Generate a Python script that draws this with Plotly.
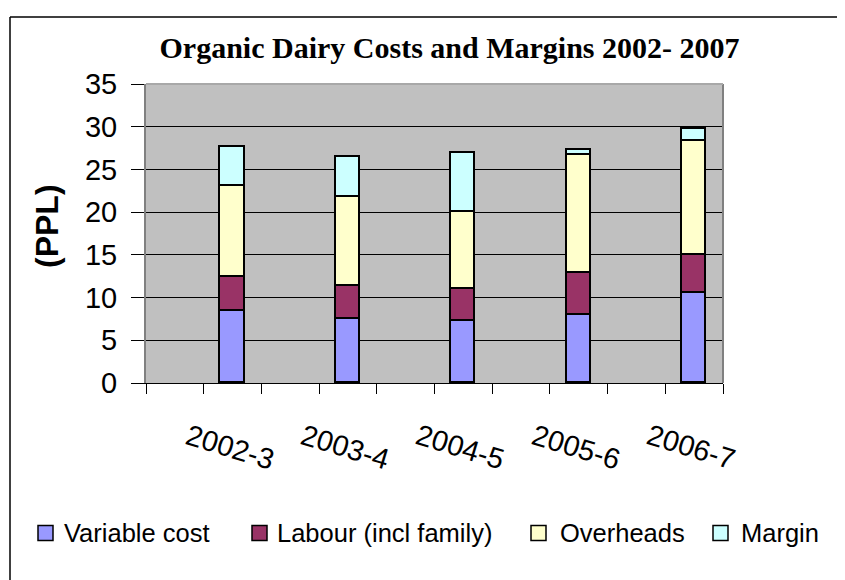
import plotly.graph_objects as go

periods = ["2002-3", "2003-4", "2004-5", "2005-6", "2006-7"]
variable_cost = [8.4, 7.5, 7.3, 7.95, 10.5]
labour = [4.0, 3.9, 3.65, 4.9, 4.5]
overheads = [10.7, 10.35, 9.1, 13.8, 13.35]
margin = [4.5, 4.75, 6.9, 0.6, 1.4]

series = [
    ("Variable cost", variable_cost, "#9999FF"),
    ("Labour (incl family)", labour, "#993366"),
    ("Overheads", overheads, "#FFFFCC"),
    ("Margin", margin, "#CCFFFF"),
]

# figure geometry (page has an 8px body margin)
W, H = 837, 572
L, R, T, B = 138, 122, 76, 197
PW, PH = W - L - R, H - T - B


def px(xp):
    return (xp - L) / PW


def py(yp):
    return (H - B - yp) / PH


# each period occupies the second of two category slots on the axis
xpos = [2 * i + 1.5 for i in range(len(periods))]

fig = go.Figure()
for name, vals, col in series:
    fig.add_trace(go.Bar(
        x=xpos, y=vals, name=name, width=0.42, showlegend=False,
        marker=dict(color=col, line=dict(color="black", width=1.6)),
    ))

annotations = []
for xp, lab in zip(xpos, periods):
    annotations.append(dict(x=xp - 0.05, y=py(439), xref="x", yref="paper", text=lab,
                            showarrow=False, textangle=17, xanchor="center", yanchor="middle",
                            font=dict(family="Liberation Sans, Arial", size=29, color="black")))

annotations.append(dict(x=px(39), y=py(218), xref="paper", yref="paper", text="<b>(PPL)</b>",
                        showarrow=False, textangle=-90, xanchor="center", yanchor="middle",
                        font=dict(family="Liberation Sans, Arial", size=32, color="black")))

shapes = []
# manual legend
leg_sq = [30, 244, 523, 705]
leg_tx = [54, 267, 550, 731]
leg_y = 525
for (name, vals, col), sx, tx in zip(series, leg_sq, leg_tx):
    shapes.append(dict(type="rect", xref="paper", yref="paper",
                       x0=px(sx), x1=px(sx + 15), y0=py(leg_y - 7.5), y1=py(leg_y + 7.5),
                       fillcolor=col, line=dict(color="black", width=1.5)))
    annotations.append(dict(x=px(tx), y=py(leg_y), xref="paper", yref="paper", text=name,
                            showarrow=False, xanchor="left", yanchor="middle",
                            font=dict(family="Liberation Sans, Arial", size=25.5, color="black")))

# plot-area frame and outer chart border
shapes += [
    dict(type="line", xref="paper", yref="paper", x0=1, x1=1, y0=0, y1=1,
         line=dict(color="#808080", width=2)),
    dict(type="line", xref="paper", yref="paper", x0=0, x1=1, y0=1, y1=1,
         line=dict(color="#A8A8A8", width=2)),
    dict(type="line", xref="paper", yref="paper", x0=px(2), x1=px(W + 5),
         y0=py(9), y1=py(9), line=dict(color="black", width=1.5)),
    dict(type="line", xref="paper", yref="paper", x0=px(2), x1=px(2),
         y0=py(9), y1=py(H + 5), line=dict(color="black", width=1.5)),
]

fig.update_layout(
    width=W, height=H,
    margin=dict(l=L, r=R, t=T, b=B),
    paper_bgcolor="white", plot_bgcolor="#C0C0C0",
    barmode="stack", bargap=0,
    title=dict(text="<b>Organic Dairy Costs and Margins 2002- 2007</b>",
               x=441.5 / W, xanchor="center", y=1 - 39 / H, yanchor="middle",
               font=dict(family="Liberation Serif, Times New Roman", size=30, color="black")),
    showlegend=False,
    xaxis=dict(range=[0, 10], tickvals=list(range(11)), ticktext=[""] * 11,
               ticks="outside", ticklen=10, tickcolor="black", showgrid=False,
               showline=True, linecolor="black", linewidth=1, zeroline=False,
               automargin=False, fixedrange=True),
    yaxis=dict(range=[0, 35], dtick=5, ticks="outside", ticklen=13, tickcolor="black",
               ticklabelstandoff=8,
               showgrid=True, gridcolor="black", gridwidth=1,
               showline=True, linecolor="#808080", linewidth=2, zeroline=False,
               automargin=False,
               tickfont=dict(family="Liberation Sans, Arial", size=29, color="black")),
    annotations=annotations,
    shapes=shapes,
)

fig.write_html("out.html")
